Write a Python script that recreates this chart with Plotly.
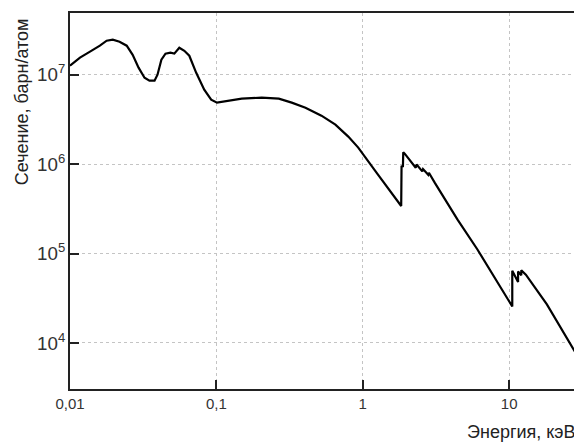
import plotly.graph_objects as go

energy_kev = [0.01, 0.0117, 0.0137, 0.016, 0.0178, 0.0196, 0.0218, 0.0244, 0.0268, 0.0294,
              0.0323, 0.0349, 0.0378, 0.0396, 0.0421, 0.0449, 0.0485, 0.0516, 0.0558, 0.0604,
              0.0653, 0.0728, 0.0826, 0.0921, 0.101, 0.122, 0.149, 0.204, 0.267, 0.327,
              0.406, 0.522, 0.65, 0.796, 0.931, 1.27, 1.83, 1.84, 1.88, 1.89,
              1.94, 2.30, 2.33, 2.55, 2.58, 2.80, 2.83, 3.10, 4.44, 6.07,
              7.92, 10.5, 10.5, 11.5, 11.5, 12.1, 12.1, 13.0, 18.1, 30.0]
cross_section = [1.26e7, 1.55e7, 1.81e7, 2.11e7, 2.40e7, 2.46e7, 2.34e7, 2.11e7, 1.67e7, 1.20e7,
                 9.25e6, 8.57e6, 8.57e6, 1.00e7, 1.47e7, 1.72e7, 1.76e7, 1.72e7, 2.00e7, 1.85e7,
                 1.63e7, 1.05e7, 6.8e6, 5.26e6, 4.87e6, 5.12e6, 5.4e6, 5.54e6, 5.4e6, 4.87e6,
                 4.28e6, 3.48e6, 2.76e6, 2.03e6, 1.53e6, 7.64e5, 3.4e5, 9.6e5, 9.3e5, 1.36e6,
                 1.30e6, 9.1e5, 9.9e5, 8.3e5, 8.8e5, 7.6e5, 8.0e5, 6.2e5, 2.4e5, 1.11e5,
                 5.4e4, 2.56e4, 6.4e4, 4.8e4, 6.3e4, 5.7e4, 6.5e4, 5.8e4, 2.7e4, 6.7e3]

x_title = "Энергия, кэВ"
y_title = "Сечение, барн/атом"

fig = go.Figure()
fig.add_trace(go.Scatter(x=energy_kev, y=cross_section, mode="lines",
                         line=dict(color="black", width=2.2), showlegend=False))

tick_font = dict(family="Liberation Sans, Arial, sans-serif", size=15, color="#333")

fig.update_xaxes(type="log", range=[-2, 1.477], dtick=1,
                 ticks="inside", ticklen=9, tickwidth=1.6, tickcolor="#222",
                 showline=True, linecolor="#222", linewidth=1.5, mirror=True,
                 showgrid=True, gridcolor="#c4c4c4", griddash="dot", gridwidth=1,
                 zeroline=False, tickfont=tick_font)
fig.update_yaxes(type="log", range=[3.485, 7.69], dtick=1, exponentformat="power",
                 ticks="inside", ticklen=9, tickwidth=1.6, tickcolor="#222",
                 showline=True, linecolor="#222", linewidth=1.5, mirror=True,
                 showgrid=True, gridcolor="#c4c4c4", griddash="dot", gridwidth=1,
                 zeroline=False, tickfont=tick_font)

fig.add_annotation(text=y_title, xref="paper", yref="paper", x=-0.094, y=0.763,
                   xanchor="center", yanchor="middle", textangle=-90, showarrow=False,
                   font=dict(family="Liberation Sans, Arial, sans-serif", size=18, color="#222"))
fig.add_annotation(text=x_title, xref="paper", yref="paper", x=0.998, y=-0.114,
                   xanchor="right", yanchor="middle", showarrow=False,
                   font=dict(family="Liberation Sans, Arial, sans-serif", size=18, color="#222"))

fig.update_layout(
    width=574, height=435, separators=", ",
    margin=dict(l=62, r=1, t=5, b=54),
    paper_bgcolor="white", plot_bgcolor="white",
)

fig.write_html("out.html")
